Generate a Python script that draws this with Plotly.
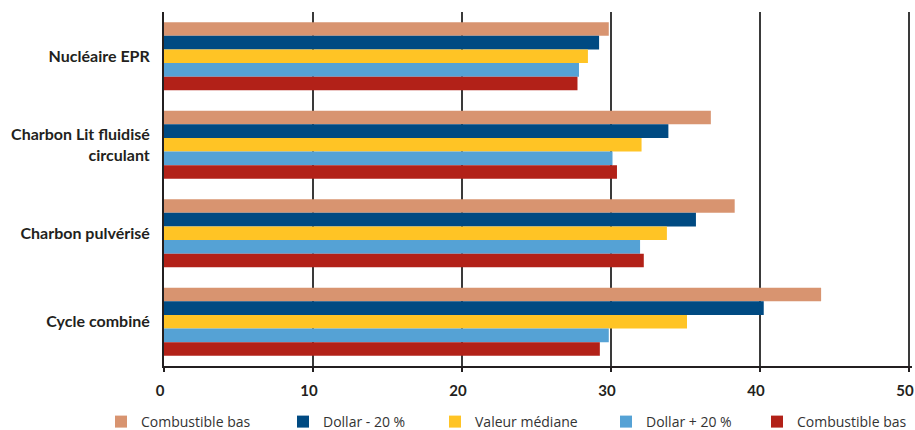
import plotly.graph_objects as go

# Filières de production (de haut en bas)
categories = ["Nucléaire EPR", "Charbon Lit fluidisé<br>circulant", "Charbon pulvérisé", "Cycle combiné"]

# Scénarios de sensibilité
series_names = ["Combustible bas", "Dollar - 20 %", "Valeur médiane", "Dollar + 20 %", "Combustible bas"]
series_colors = ["#D89470", "#004A82", "#FFC425", "#55A2D5", "#B22118"]

combustible_bas_1 = [29.85, 36.7, 38.3, 44.1]
dollar_moins_20 = [29.2, 33.85, 35.7, 40.25]
valeur_mediane = [28.45, 32.05, 33.75, 35.1]
dollar_plus_20 = [27.85, 30.1, 31.95, 29.85]
combustible_bas_2 = [27.75, 30.4, 32.2, 29.25]

series_values = [combustible_bas_1, dollar_moins_20, valeur_mediane, dollar_plus_20, combustible_bas_2]

x_ticks = [0, 10, 20, 30, 40, 50]

W, H = 915, 430
text_color = "#231F20"
label_font = "Lato, 'Open Sans', sans-serif"
legend_font = "'Open Sans', 'Noto Sans', sans-serif"

# left edge (px) of each legend entry along the bottom row
legend_left_px = [114, 296, 448, 619, 770]
legend_center_px = 422

fig = go.Figure()
legend_layouts = {}
for i, (name, color, values) in enumerate(zip(series_names, series_colors, series_values)):
    legend_id = "legend" if i == 0 else f"legend{i + 1}"
    fig.add_trace(go.Bar(
        y=categories,
        x=values,
        name=name,
        orientation="h",
        marker=dict(color=color, line=dict(width=0)),
        legend=legend_id,
    ))
    legend_layouts[legend_id] = dict(
        orientation="h",
        xref="container",
        yref="container",
        x=(legend_left_px[i] - 13) / W,
        xanchor="left",
        y=1 - legend_center_px / H,
        yanchor="middle",
        bgcolor="rgba(0,0,0,0)",
        borderwidth=0,
        font=dict(size=14, color="#333333", family=legend_font),
        itemclick=False,
        itemdoubleclick=False,
    )

fig.update_layout(
    width=W,
    height=H,
    barmode="group",
    bargap=0.23,
    bargroupgap=0,
    plot_bgcolor="white",
    paper_bgcolor="white",
    margin=dict(l=164, r=3, t=12, b=64, autoexpand=False),
    font=dict(family=label_font, color=text_color),
    showlegend=True,
    **legend_layouts,
)

fig.update_xaxes(
    range=[0, 50.2],
    tickvals=x_ticks,
    ticktext=[str(v) for v in x_ticks],
    showgrid=True,
    gridcolor="#3A3A3A",
    gridwidth=1.5,
    zeroline=False,
    showline=True,
    linecolor=text_color,
    linewidth=2,
    ticks="outside",
    ticklen=4,
    tickwidth=1.5,
    tickcolor=text_color,
    tickfont=dict(size=15, color=text_color, family=label_font, weight="bold"),
    ticklabelstandoff=6,
    ticklabelshift=-4,
    ticklabeloverflow="allow",
    fixedrange=True,
)

fig.update_yaxes(
    autorange="reversed",
    showline=True,
    linecolor=text_color,
    linewidth=2,
    showgrid=False,
    ticks="",
    tickfont=dict(size=16, color=text_color, family=label_font, weight="bold"),
    ticklabelstandoff=9,
    fixedrange=True,
)

fig.write_html("out.html")
